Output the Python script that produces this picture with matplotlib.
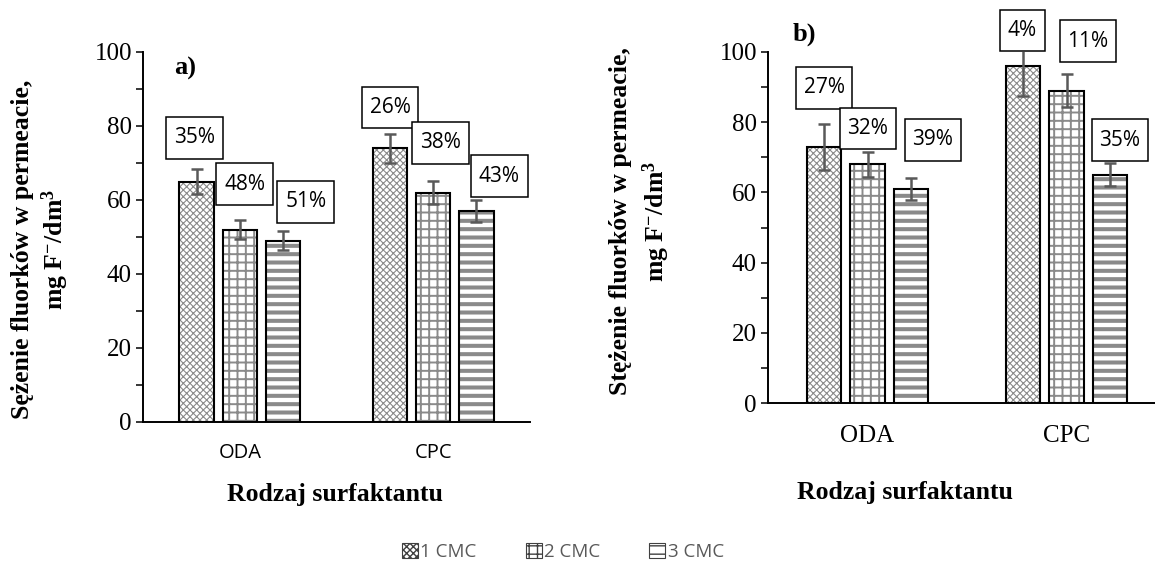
import matplotlib
matplotlib.use("Agg")
import matplotlib.pyplot as plt
from matplotlib.patches import Patch
from matplotlib.path import Path
import numpy as np

# ---------------- data ----------------
categories = ["ODA", "CPC"]
series_names = ["1 CMC", "2 CMC", "3 CMC"]

# panel a)
a_cmc1 = [65, 74]
a_cmc2 = [52, 62]
a_cmc3 = [49, 57]
a_err1 = [3.3, 3.9]
a_err2 = [2.6, 3.2]
a_err3 = [2.6, 3.0]
a_lab1 = ["35%", "26%"]
a_lab2 = ["48%", "38%"]
a_lab3 = ["51%", "43%"]

# panel b)
b_cmc1 = [73, 96]
b_cmc2 = [68, 89]
b_cmc3 = [61, 65]
b_err1 = [6.6, 8.5]
b_err2 = [3.5, 4.6]
b_err3 = [3.2, 3.3]
b_lab1 = ["27%", "4%"]
b_lab2 = ["32%", "11%"]
b_lab3 = ["39%", "35%"]

# ---------------- style ----------------
plt.rcParams["mathtext.fontset"] = "custom"
plt.rcParams["mathtext.rm"] = "Liberation Serif"
plt.rcParams["mathtext.bf"] = "Liberation Serif:bold"
plt.rcParams["mathtext.it"] = "Liberation Serif:italic"

SERIF = "Liberation Serif"
SANS = "Open Sans"
HATCHES = ["xxxxx", "++", "--"]
HATCH_LW = [0.8, 1.4, 2.9]
HATCH_COL = "#8a8a8a"
ERR_COL = "#595959"

# label offsets (pixels at 100 dpi) relative to bar top centre
a_offsets = [[(-2.5, 43.7), (0, 40.7)],
             [(5, 45.5), (7.5, 49.6)],
             [(23, 38.9), (23, 35)]]
b_offsets = [[(0.5, 58.8), (-0.5, 35.5)],
             [(0.5, 35.8), (21.5, 49.6)],
             [(21.5, 48.9), (9.5, 34.8)]]


def label_box(x0, y0, width, height, mutation_size):
    px = 0.38 * mutation_size
    py = 0.50 * mutation_size
    x1, y1 = x0 + width + px, y0 + height + py
    xa, ya = x0 - px, y0 - py
    return Path([(xa, ya), (x1, ya), (x1, y1), (xa, y1), (xa, ya)],
                [Path.MOVETO, Path.LINETO, Path.LINETO, Path.LINETO, Path.CLOSEPOLY])


fig = plt.figure(figsize=(11.55, 5.67), dpi=100)
W, H = 1155, 567


def ax_rect(x0, x1, ytop, ybot):
    return [x0 / W, 1 - ybot / H, (x1 - x0) / W, (ybot - ytop) / H]


def draw_panel(ax, vals, errs, labs, offs, width, step, xtick_font, xtick_size, xpad):
    x = np.arange(len(categories))
    for i in range(3):
        xi = x + (i - 1) * step
        with plt.rc_context({"hatch.linewidth": HATCH_LW[i]}):
            bars = ax.bar(xi, vals[i], width, color="white", edgecolor=HATCH_COL,
                          hatch=HATCHES[i], linewidth=0, zorder=2)
            for b in bars:
                if hasattr(b, "set_hatch_linewidth"):
                    b.set_hatch_linewidth(HATCH_LW[i])
        ax.bar(xi, vals[i], width, fill=False, edgecolor="black", linewidth=1.5, zorder=3)
        ax.errorbar(xi, vals[i], yerr=errs[i], fmt="none", ecolor=ERR_COL,
                    elinewidth=1.8, capsize=4.3, capthick=1.8, zorder=4)
        for j in range(len(categories)):
            dx, dy = offs[i][j]
            ax.annotate(labs[i][j], xy=(xi[j], vals[i][j]),
                        xytext=(dx * 0.72, dy * 0.72), textcoords="offset points",
                        ha="center", va="center", fontsize=15, family=SANS,
                        color="black", zorder=6, annotation_clip=False,
                        bbox=dict(boxstyle=label_box, fc="white", ec="black", lw=1.1))
    ax.set_xlim(-0.5, 1.5)
    ax.set_ylim(0, 100)
    ax.set_xticks(x)
    ax.set_xticklabels(categories, family=xtick_font, fontsize=xtick_size)
    ax.set_yticks(range(0, 101, 20))
    ax.set_yticks(range(10, 100, 20), minor=True)
    ax.set_yticklabels([str(v) for v in range(0, 101, 20)], family=SERIF, fontsize=18)
    ax.tick_params(axis="y", which="both", direction="out", length=5, width=1.1, pad=3)
    ax.tick_params(axis="x", length=0, pad=xpad)
    for s in ["top", "right"]:
        ax.spines[s].set_visible(False)
    for s in ["left", "bottom"]:
        ax.spines[s].set_linewidth(1.4)
        ax.spines[s].set_color("black")
    ax.set_facecolor("none")


ax_a = fig.add_axes(ax_rect(143, 530, 52, 422))
draw_panel(ax_a, [a_cmc1, a_cmc2, a_cmc3], [a_err1, a_err2, a_err3],
           [a_lab1, a_lab2, a_lab3], a_offsets, 0.177, 0.223, SANS, 14.5, 15)

ax_b = fig.add_axes(ax_rect(768, 1166, 52, 403))
draw_panel(ax_b, [b_cmc1, b_cmc2, b_cmc3], [b_err1, b_err2, b_err3],
           [b_lab1, b_lab2, b_lab3], b_offsets, 0.171, 0.221, SERIF, 18, 15.5)

# panel letters
fig.text(174 / W, 1 - 68 / H, "a)", family=SERIF, weight="bold", fontsize=19,
         ha="left", va="center")
fig.text(793 / W, 1 - 34 / H, "b)", family=SERIF, weight="bold", fontsize=19,
         ha="left", va="center")


# y-axis titles
def ylab(x, y, l1, l2, dx):
    fig.text(x / W, 1 - y / H, l1, rotation=90, family=SERIF, weight="bold",
             fontsize=18.5, ha="center", va="center", rotation_mode="anchor")
    fig.text((x + dx) / W, 1 - y / H, l2, rotation=90, family=SERIF, weight="bold",
             fontsize=18.5, ha="center", va="center", rotation_mode="anchor")


unit = r"mg F$^{\mathbf{-}}$/dm$^{\mathbf{3}}$"
ylab(23, 249, "Sężenie fluorków w permeacie,", unit, 32.5)
ylab(620, 221, "Stężenie fluorków w permeacie,", unit, 36)

# x-axis titles
fig.text(335 / W, 1 - 495 / H, "Rodzaj surfaktantu", family=SERIF, weight="bold",
         fontsize=18.5, ha="center", va="center")
fig.text(905 / W, 1 - 493 / H, "Rodzaj surfaktantu", family=SERIF, weight="bold",
         fontsize=18.5, ha="center", va="center")

# legend
handles = []
for i, name in enumerate(series_names):
    with plt.rc_context({"hatch.linewidth": HATCH_LW[i] * 0.7}):
        p = Patch(facecolor="white", edgecolor="#404040", hatch=HATCHES[i], linewidth=0.8,
                  label=name)
    handles.append(p)
leg = fig.legend(handles=handles, loc="center", bbox_to_anchor=(563 / W, 1 - 552 / H),
                 ncol=3, frameon=False, handlelength=0.85, handleheight=0.85,
                 handletextpad=0.15, columnspacing=2.6,
                 prop={"family": SANS, "size": 13.5})
for t in leg.get_texts():
    t.set_color("#595959")

fig.savefig("out.png", dpi=100)
